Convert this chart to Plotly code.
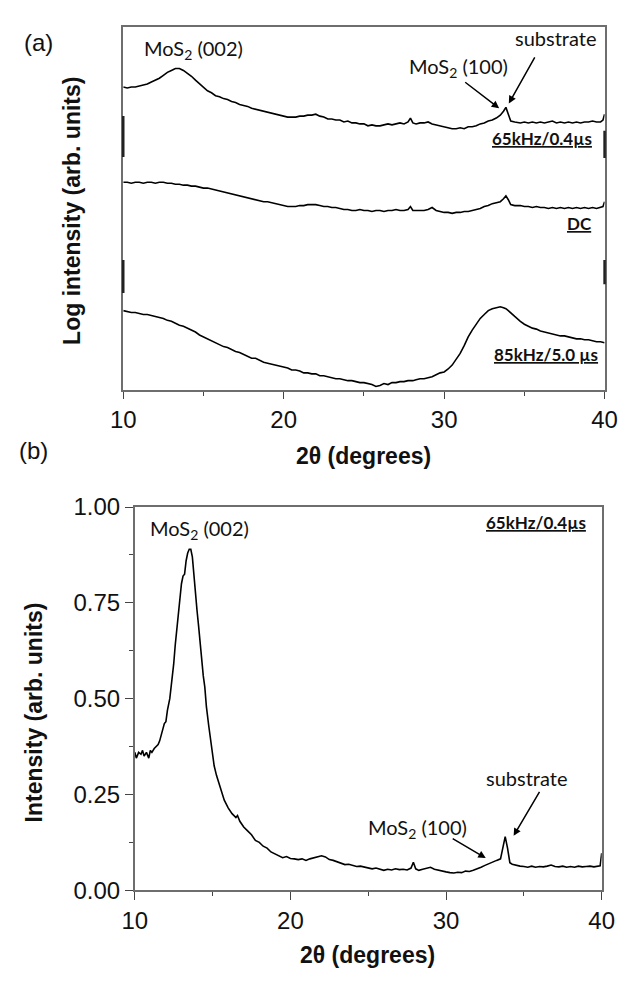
import plotly.graph_objects as go

# ---------------- data (panel a: log intensity, arbitrary units) ----------------
two_theta_a = [10.0, 10.25, 10.5, 10.75, 11.0, 11.25, 11.5, 11.75, 12.0, 12.25, 12.5, 12.75, 13.0, 13.25, 13.5, 13.75,
               14.0, 14.25, 14.5, 14.75, 15.0, 15.25, 15.5, 15.75, 16.0, 16.25, 16.5, 16.75, 17.0, 17.25, 17.5, 17.75,
               18.0, 18.25, 18.5, 18.75, 19.0, 19.25, 19.5, 19.75, 20.0, 20.25, 20.5, 20.75, 21.0, 21.25, 21.5, 21.75,
               22.0, 22.25, 22.5, 22.75, 23.0, 23.25, 23.5, 23.75, 24.0, 24.25, 24.5, 24.75, 25.0, 25.25, 25.5, 25.75,
               26.0, 26.25, 26.5, 26.75, 27.0, 27.25, 27.5, 27.75, 27.9, 28.05, 28.25, 28.5, 28.75, 29.0, 29.25, 29.5,
               29.75, 30.0, 30.25, 30.5, 30.75, 31.0, 31.25, 31.5, 31.75, 32.0, 32.25, 32.5, 32.75, 33.0, 33.25, 33.5,
               33.7, 33.85, 34.0, 34.15, 34.4, 34.75, 35.0, 35.25, 35.5, 35.75, 36.0, 36.25, 36.5, 36.75, 37.0, 37.25,
               37.5, 37.75, 38.0, 38.25, 38.5, 38.75, 39.0, 39.25, 39.5, 39.75, 39.9, 40.0]
log_65khz = [312, 311, 312, 312, 313, 314, 315, 317, 319, 321, 324, 327, 329, 331, 331, 329,
             326, 323, 319, 315, 312, 308, 306, 303, 302, 300, 299, 297, 296, 294, 293, 292,
             290, 289, 288, 287, 286, 285, 284, 283, 282, 281, 281, 281, 282, 282, 283, 283,
             284, 282, 281, 279, 279, 278, 278, 276, 277, 275, 275, 274, 274, 272, 273, 272,
             272, 273, 274, 273, 274, 275, 274, 276, 280, 275, 274, 275, 275, 276, 274, 273,
             272, 271, 270, 269, 269, 270, 269, 271, 271, 272, 274, 275, 277, 278, 280, 283,
             287, 291, 284, 277, 276, 275, 276, 275, 276, 275, 276, 275, 276, 277, 275, 276,
             275, 276, 275, 276, 275, 276, 276, 277, 276, 276, 278, 284]
log_dc = [214, 214, 213, 214, 214, 213, 214, 214, 213, 214, 214, 213, 213, 212, 212, 211,
          211, 210, 210, 209, 208, 208, 207, 206, 205, 204, 203, 202, 201, 200, 199, 198,
          197, 196, 195, 194, 194, 193, 192, 191, 190, 189, 189, 189, 190, 190, 191, 191,
          191, 190, 189, 189, 188, 188, 187, 186, 186, 185, 185, 186, 185, 185, 184, 185,
          185, 184, 185, 185, 186, 185, 185, 186, 189, 185, 185, 185, 185, 186, 188, 185,
          184, 183, 183, 182, 183, 183, 184, 184, 185, 186, 187, 189, 190, 192, 193, 194,
          197, 200, 196, 191, 190, 190, 189, 189, 188, 189, 188, 188, 187, 188, 187, 188,
          187, 188, 187, 188, 187, 188, 187, 188, 187, 188, 189, 194]
log_85khz = [82, 81, 80, 80, 79, 78, 78, 77, 76, 75, 74, 72, 71, 69, 67, 66,
             64, 62, 60, 57, 55, 53, 51, 49, 47, 45, 44, 42, 40, 39, 37, 35,
             33, 33, 31, 29, 28, 27, 26, 25, 24, 23, 21, 21, 20, 18, 18, 17,
             17, 15, 15, 14, 13, 12, 12, 11, 10, 10, 9, 8, 8, 7, 6, 4,
             5, 7, 6, 8, 8, 9, 9, 10, 10, 10, 11, 12, 12, 13, 14, 16,
             18, 19, 22, 26, 32, 38, 46, 55, 62, 68, 74, 78, 82, 84, 85, 86,
             85, 84, 82, 80, 76, 71, 68, 66, 64, 63, 61, 60, 59, 58, 57, 56,
             56, 55, 54, 53, 53, 52, 52, 51, 50, 50, 49, 49]

# ---------------- data (panel b: normalised intensity, 65kHz/0.4us) ----------------
two_theta_b = [10.0, 10.1, 10.25, 10.4, 10.5, 10.6, 10.75, 10.9, 11.0, 11.1, 11.25, 11.4, 11.5, 11.6, 11.75, 11.9,
               12.0, 12.1, 12.25, 12.4, 12.5, 12.6, 12.75, 12.9, 13.0, 13.1, 13.2, 13.3, 13.4, 13.5, 13.6, 13.7,
               13.8, 13.9, 14.0, 14.1, 14.25, 14.4, 14.5, 14.6, 14.75, 14.9, 15.0, 15.1, 15.25, 15.5, 15.75, 16.0,
               16.25, 16.5, 16.6, 16.75, 17.0, 17.25, 17.5, 17.75, 18.0, 18.25, 18.5, 18.75, 19.0, 19.25, 19.5, 19.75,
               20.0, 20.25, 20.5, 20.75, 21.0, 21.25, 21.5, 21.75, 22.0, 22.25, 22.5, 22.75, 23.0, 23.25, 23.5, 23.75,
               24.0, 24.25, 24.5, 24.75, 25.0, 25.25, 25.5, 25.75, 26.0, 26.25, 26.5, 26.75, 27.0, 27.25, 27.5, 27.75,
               27.9, 28.05, 28.25, 28.5, 28.75, 29.0, 29.25, 29.5, 29.75, 30.0, 30.25, 30.5, 30.75, 31.0, 31.25, 31.5,
               31.75, 32.0, 32.25, 32.5, 32.75, 33.0, 33.25, 33.5, 33.65, 33.8, 33.95, 34.1, 34.25, 34.5, 34.75, 35.0,
               35.25, 35.5, 35.75, 36.0, 36.25, 36.5, 36.75, 37.0, 37.25, 37.5, 37.75, 38.0, 38.25, 38.5, 38.75, 39.0,
               39.25, 39.5, 39.75, 39.9, 40.0]
intensity_b = [0.36, 0.345, 0.36, 0.355, 0.365, 0.35, 0.36, 0.345, 0.365, 0.36, 0.37, 0.375, 0.38, 0.39, 0.415, 0.435,
               0.44, 0.47, 0.50, 0.55, 0.59, 0.64, 0.70, 0.76, 0.80, 0.82, 0.825, 0.86, 0.88, 0.89, 0.89, 0.87,
               0.82, 0.76, 0.73, 0.69, 0.62, 0.56, 0.53, 0.48, 0.43, 0.38, 0.35, 0.325, 0.30, 0.265, 0.235, 0.215,
               0.20, 0.19, 0.195, 0.18, 0.165, 0.155, 0.145, 0.13, 0.125, 0.115, 0.11, 0.10, 0.095, 0.09, 0.085, 0.088,
               0.083, 0.082, 0.08, 0.082, 0.078, 0.082, 0.085, 0.088, 0.09, 0.087, 0.08, 0.078, 0.074, 0.07, 0.067, 0.068,
               0.064, 0.062, 0.063, 0.06, 0.058, 0.056, 0.058, 0.055, 0.052, 0.055, 0.053, 0.056, 0.054, 0.055, 0.053, 0.058,
               0.073, 0.056, 0.052, 0.055, 0.057, 0.06, 0.055, 0.052, 0.05, 0.048, 0.046, 0.045, 0.047, 0.046, 0.05, 0.049,
               0.052, 0.055, 0.06, 0.065, 0.07, 0.075, 0.078, 0.082, 0.11, 0.14, 0.11, 0.072, 0.068, 0.065, 0.063, 0.062,
               0.06, 0.063, 0.06, 0.062, 0.061, 0.063, 0.066, 0.062, 0.061, 0.063, 0.06, 0.062, 0.06, 0.063, 0.061, 0.062,
               0.063, 0.061, 0.062, 0.064, 0.097]

x_ticks = [10, 20, 30, 40]
y_ticks_b = [0.00, 0.25, 0.50, 0.75, 1.00]

W, H = 631, 984
def px(v):  # horizontal pixel -> paper
    return v / W
def py(v):  # vertical pixel -> paper
    return 1 - v / H

line_style = dict(color="black", width=1.6)
fig = go.Figure()
fig.add_trace(go.Scatter(x=two_theta_a, y=log_65khz, mode="lines", line=line_style, xaxis="x", yaxis="y"))
fig.add_trace(go.Scatter(x=two_theta_a, y=log_dc, mode="lines", line=line_style, xaxis="x", yaxis="y"))
fig.add_trace(go.Scatter(x=two_theta_a, y=log_85khz, mode="lines", line=line_style, xaxis="x", yaxis="y"))
fig.add_trace(go.Scatter(x=two_theta_b, y=intensity_b, mode="lines", line=line_style, xaxis="x2", yaxis="y2"))

tick_font = dict(family="Liberation Sans, Arial, sans-serif", size=24, color="#111")
frame = dict(showline=True, linecolor="#6e6e6e", linewidth=1.5, mirror=True, zeroline=False, showgrid=False)

fig.update_layout(
    width=W, height=H, margin=dict(l=0, r=0, t=0, b=0),
    paper_bgcolor="white", plot_bgcolor="white", showlegend=False,
    xaxis=dict(domain=[px(115), px(617)], anchor="y", range=[10, 40], tickvals=x_ticks,
               ticks="outside", ticklen=7, tickwidth=1.3, tickcolor="#444", tickfont=tick_font,
               minor=dict(dtick=5, ticks="outside", ticklen=4, tickwidth=1.3, tickcolor="#444"), **frame),
    yaxis=dict(domain=[py(387), py(13)], anchor="x", range=[0, 374], showticklabels=False, ticks="", **frame),
    xaxis2=dict(domain=[px(127), px(614)], anchor="y2", range=[10, 40], tickvals=x_ticks,
                ticks="outside", ticklen=8, tickwidth=1.3, tickcolor="#444", tickfont=tick_font,
                minor=dict(dtick=5, ticks="outside", ticklen=4, tickwidth=1.3, tickcolor="#444"), **frame),
    yaxis2=dict(domain=[py(901), py(507)], anchor="x2", range=[0, 1], tickvals=y_ticks_b, tickformat=".2f",
                ticks="outside", ticklen=8, tickwidth=1.3, tickcolor="#444", tickfont=tick_font,
                minor=dict(dtick=0.125, ticks="outside", ticklen=4, tickwidth=1.3, tickcolor="#444"), **frame),
)

title_font = dict(family="Liberation Sans, Arial, sans-serif", size=23, color="#111")
letter_font = dict(family="Liberation Sans, Arial, sans-serif", size=24, color="#111")
lab_font = dict(family="Lato, Carlito, sans-serif", size=20, color="#111")
bold_lab = dict(family="Lato, Carlito, sans-serif", size=17, color="#111")

def paper_text(text, xpix, ypix, font, angle=0):
    return dict(text=text, x=px(xpix), y=py(ypix), xref="paper", yref="paper", showarrow=False,
                xanchor="center", yanchor="middle", textangle=angle, font=font)

ann = []
# panel letters and axis titles
ann.append(paper_text("(a)", 27, 29, letter_font))
ann.append(paper_text("(b)", 21, 449, letter_font))
ann.append(paper_text("<b>2θ (degrees)</b>", 366, 454, title_font))
ann.append(paper_text("<b>2θ (degrees)</b>", 370, 968, title_font))
ann.append(paper_text("<b>Log intensity (arb. units)</b>", 62, 202, title_font, -90))
ann.append(paper_text("<b>Intensity (arb. units)</b>", 22, 718, title_font, -90))

def data_text(text, x, y, ax_id, font):
    return dict(text=text, x=x, y=y, xref="x" + ax_id, yref="y" + ax_id, showarrow=False,
                xanchor="center", yanchor="middle", font=font)

def arrow(x, y, ax, ay, ax_id):
    return dict(text="", x=x, y=y, ax=ax, ay=ay, xref="x" + ax_id, yref="y" + ax_id,
                axref="x" + ax_id, ayref="y" + ax_id, showarrow=True, arrowhead=2,
                arrowsize=1, arrowwidth=1.5, arrowcolor="black")

# panel a labels
ann.append(data_text("MoS<sub>2</sub> (002)", 14.36, 351, "", lab_font))
ann.append(data_text("substrate", 36.96, 362, "", lab_font))
ann.append(data_text("MoS<sub>2</sub> (100)", 30.92, 332, "", lab_font))
ann.append(arrow(33.43, 290, 31.22, 318, ""))
ann.append(arrow(34.03, 295, 35.70, 344, ""))
ann.append(data_text("<b><u>65kHz/0.4µs</u></b>", 36.12, 259, "", bold_lab))
ann.append(data_text("<b><u>DC</u></b>", 38.45, 172, "", bold_lab))
ann.append(data_text("<b><u>85kHz/5.0 µs</u></b>", 36.36, 37, "", bold_lab))

# panel b labels
ann.append(data_text("MoS<sub>2</sub> (002)", 14.19, 0.942, "2", lab_font))
ann.append(data_text("<b><u>65kHz/0.4µs</u></b>", 35.75, 0.959, "2", bold_lab))
ann.append(data_text("substrate", 35.2, 0.292, "2", lab_font))
ann.append(data_text("MoS<sub>2</sub> (100)", 28.18, 0.162, "2", lab_font))
ann.append(arrow(32.55, 0.084, 30.33, 0.137, "2"))
ann.append(arrow(34.34, 0.142, 36.06, 0.261, "2"))
fig.update_layout(annotations=ann)

# darker segments on the side axes of panel a
shapes = []
for xs, y0, y1 in [(0, 100, 134), (0, 240, 282), (1, 239, 267), (1, 109, 134)]:
    shapes.append(dict(type="line", xref="x domain", yref="y", x0=xs, x1=xs, y0=y0, y1=y1,
                       line=dict(color="#222", width=2.5)))
fig.update_layout(shapes=shapes)

fig.write_html("out.html", config={"displayModeBar": False},
               post_script="document.body.style.margin='0';document.body.style.overflow='hidden';")
